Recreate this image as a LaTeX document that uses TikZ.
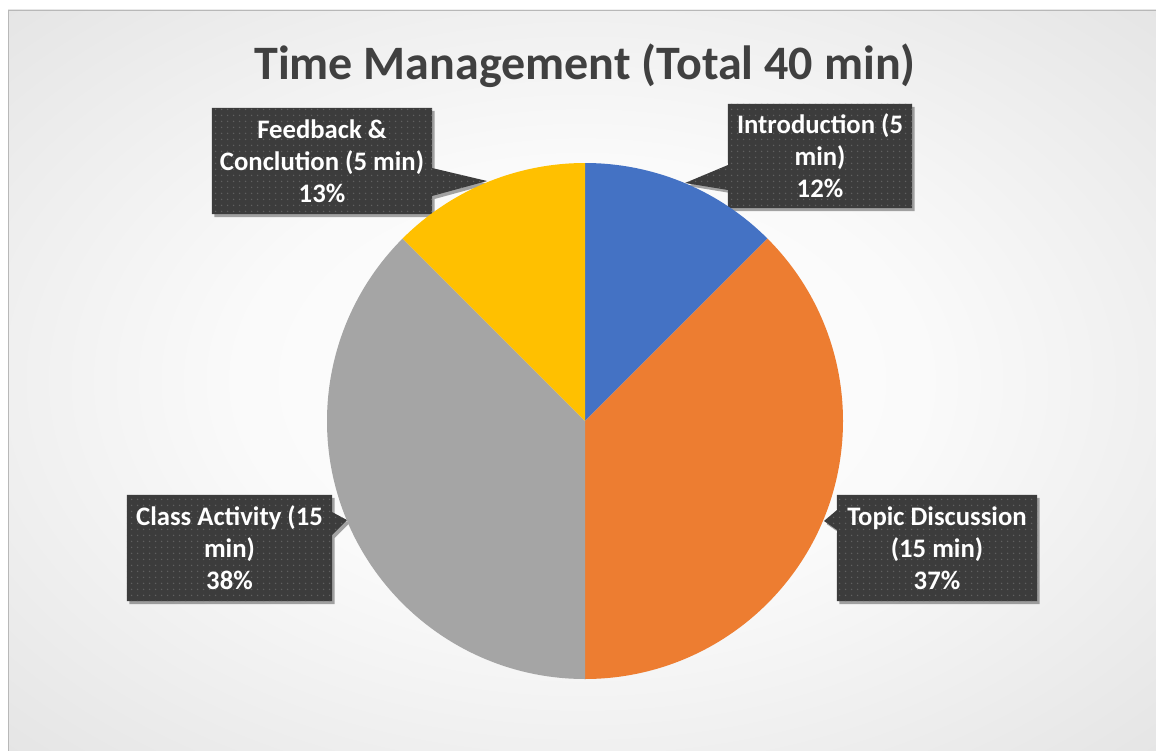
\documentclass[tikz,border=0pt]{standalone}
\usepackage{fontspec}
\setmainfont{Carlito}
\usetikzlibrary{patterns.meta,shadows,calc}
\pgfdeclarelayer{bg}
\pgfdeclarelayer{callout}
\pgfsetlayers{bg,callout,main}
\definecolor{titlegray}{HTML}{404040}
\definecolor{boxdark}{HTML}{3C3C3C}
\definecolor{boxdot}{HTML}{606060}
\definecolor{pieblue}{HTML}{4472C4}
\definecolor{pieorange}{HTML}{ED7D31}
\definecolor{piegray}{HTML}{A5A5A5}
\definecolor{pieyellow}{HTML}{FFC000}
\definecolor{framegray}{HTML}{B8B8B8}
\pgfdeclareradialshading{bgshade}{\pgfpoint{0bp}{0bp}}{%
  color(0bp)=(white);
  color(15bp)=(white!98!black);
  color(50bp)=(white!84!black);
  color(72bp)=(white!76!black)}
\tikzset{
  lbl/.style={align=center, text=white, inner sep=0pt,
    font=\bfseries\fontsize{26.8}{32}\selectfont},
  calloutbox/.style={fill=boxdark,
    postaction={pattern={Dots[distance=6bp, radius=0.9bp]}, pattern color=boxdot},
    drop shadow={shadow xshift=2.5bp, shadow yshift=-3bp, opacity=.35, fill=black}},
  slice/.style={draw=none}
}
\begin{document}
\begin{tikzpicture}[x=1bp,y=-1bp]
\useasboundingbox (0,0) rectangle (1156,751);
\begin{pgfonlayer}{bg}
  \fill[white] (0,0) rectangle (1156,751);
  \shade[shading=bgshade] (8,10) rectangle (1156,751);
  \draw[framegray, line width=0.8bp] (8,751) -- (8,10) -- (1156,10);
\end{pgfonlayer}

% pie
\begin{scope}[shift={(585,421)}]
  \coordinate (c) at (0,0);
  \fill[pieblue]   (c) -- (-90:258) arc[start angle=-90, end angle=-45, radius=258] -- cycle;
  \fill[pieorange] (c) -- (-45:258) arc[start angle=-45, end angle=90, radius=258] -- cycle;
  \fill[piegray]   (c) -- (90:258) arc[start angle=90, end angle=225, radius=258] -- cycle;
  \fill[pieyellow] (c) -- (225:258) arc[start angle=225, end angle=270, radius=258] -- cycle;
\end{scope}

% title
\node[anchor=base, text=titlegray, font=\bfseries\fontsize{48.2}{56}\selectfont, inner sep=0pt]
  (title) at (585,80) {Time Management (Total 40 min)};

% labels
\node[lbl, minimum width=220bp, minimum height=106bp] (fb) at (322,161)
  {Feedback \&\\Conclution (5 min)\\13\%};
\node[lbl, minimum width=184bp, minimum height=104bp] (intro) at (820,156)
  {Introduction (5\\min)\\12\%};
\node[lbl, minimum width=205bp, minimum height=106bp] (class) at (229.5,548)
  {Class Activity (15\\min)\\38\%};
\node[lbl, minimum width=200bp, minimum height=106bp] (topic) at (937,548)
  {Topic Discussion\\(15 min)\\37\%};

\coordinate (fbA) at (432,168);
\coordinate (fbB) at (432,196);
\coordinate (fbT) at (487,181);
\coordinate (inA) at (728,165);
\coordinate (inB) at (728,190);
\coordinate (inT) at (685,183);
\coordinate (clA) at (332,512);
\coordinate (clB) at (332,535);
\coordinate (clT) at (347,520);
\coordinate (tpA) at (837,510);
\coordinate (tpB) at (837,530);
\coordinate (tpT) at (824,521);

\begin{pgfonlayer}{callout}
  \path[calloutbox] (fb.north west) -- (fb.north east) -- (fbA) -- (fbT) -- (fbB)
    -- (fb.south east) -- (fb.south west) -- cycle;
  \path[calloutbox] (intro.north west) -- (intro.north east) -- (intro.south east)
    -- (intro.south west) -- (inB) -- (inT) -- (inA) -- cycle;
  \path[calloutbox] (class.north west) -- (class.north east) -- (clA) -- (clT) -- (clB)
    -- (class.south east) -- (class.south west) -- cycle;
  \path[calloutbox] (topic.north west) -- (topic.north east) -- (topic.south east)
    -- (topic.south west) -- (tpB) -- (tpT) -- (tpA) -- cycle;
\end{pgfonlayer}
\end{tikzpicture}
\end{document}
